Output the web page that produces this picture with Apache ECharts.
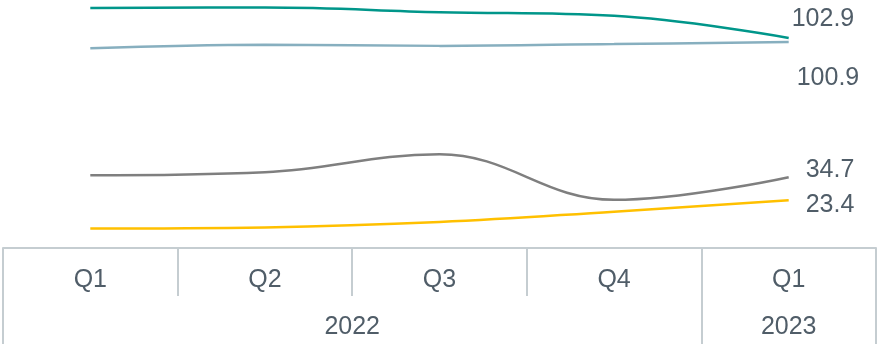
<!DOCTYPE html>
<html>
<head>
    <meta charset="utf-8">
    <title>Quarterly lines</title>
    <style>
        html, body { margin: 0; padding: 0; background: #fff; }
        #container { width: 878px; height: 344px; }
    </style>
</head>
<body>
<div id="container"></div>
<script src="https://cdn.jsdelivr.net/npm/echarts@6/dist/echarts.min.js"></script>
<script type="text/javascript">
    // data
    var quarters = ['Q1', 'Q2', 'Q3', 'Q4', 'Q1'];
    var years = ['2022', '2023'];
    var tealValues = [117.6, 117.8, 115.5, 113.7, 102.9];
    var blueValues = [97.8, 99.6, 99.0, 99.9, 100.9];
    var greyValues = [35.6, 37.1, 45.9, 23.6, 34.7];
    var yellowValues = [9.6, 10.1, 12.7, 17.8, 23.4];

    var textColor = '#505d68';
    var borderColor = '#c5cdd1';
    var font = 'Liberation Sans, Arial, sans-serif';

    var myChart = echarts.init(document.getElementById('container'));

    // only the last point gets a label
    function withEndLabel(values, offset) {
        var last = values.length - 1;
        return values.map(function (v, i) {
            if (i !== last) return v;
            return {
                value: v,
                label: {
                    show: true,
                    position: 'right',
                    distance: 3,
                    offset: offset,
                    color: textColor,
                    fontSize: 25,
                    fontFamily: font
                }
            };
        });
    }

    function lineSeries(name, color, values, offset) {
        return {
            name: name,
            type: 'line',
            smooth: 0.4,
            symbol: 'circle',
            symbolSize: 0,
            showSymbol: true,
            lineStyle: { color: color, width: 2.5 },
            itemStyle: { color: color },
            data: withEndLabel(values, offset)
        };
    }

    var option = {
        animation: false,
        grid: { left: 3, right: 2, top: 3, bottom: 96 },
        xAxis: [
            {
                type: 'category',
                data: quarters,
                boundaryGap: true,
                axisLine: { show: true, lineStyle: { color: borderColor, width: 2 } },
                axisTick: { show: true, interval: 0, length: 48, lineStyle: { color: borderColor, width: 2 } },
                axisLabel: { color: textColor, fontSize: 25, fontFamily: font, margin: 20, interval: 0 },
                splitLine: { show: false }
            },
            {
                // year row under the quarters
                type: 'value',
                min: 0,
                max: 5,
                position: 'bottom',
                offset: 48,
                axisLine: { show: false },
                axisTick: { show: true, customValues: [0, 4, 5], length: 48, lineStyle: { color: borderColor, width: 2 } },
                axisLabel: {
                    customValues: [2, 4.5],
                    color: textColor,
                    fontSize: 25,
                    fontFamily: font,
                    margin: 19,
                    formatter: function (v) { return v === 2 ? years[0] : years[1]; }
                },
                splitLine: { show: false }
            }
        ],
        yAxis: {
            type: 'value',
            min: 0,
            max: 120,
            show: false
        },
        series: [
            lineSeries('teal', '#00968a', tealValues, [0, -19]),
            lineSeries('blue', '#87afbf', blueValues, [5, 36]),
            lineSeries('grey', '#7f7f7f', greyValues, [14, -7]),
            lineSeries('yellow', '#ffc000', yellowValues, [14, 5])
        ]
    };

    myChart.setOption(option);
</script>
</body>
</html>
